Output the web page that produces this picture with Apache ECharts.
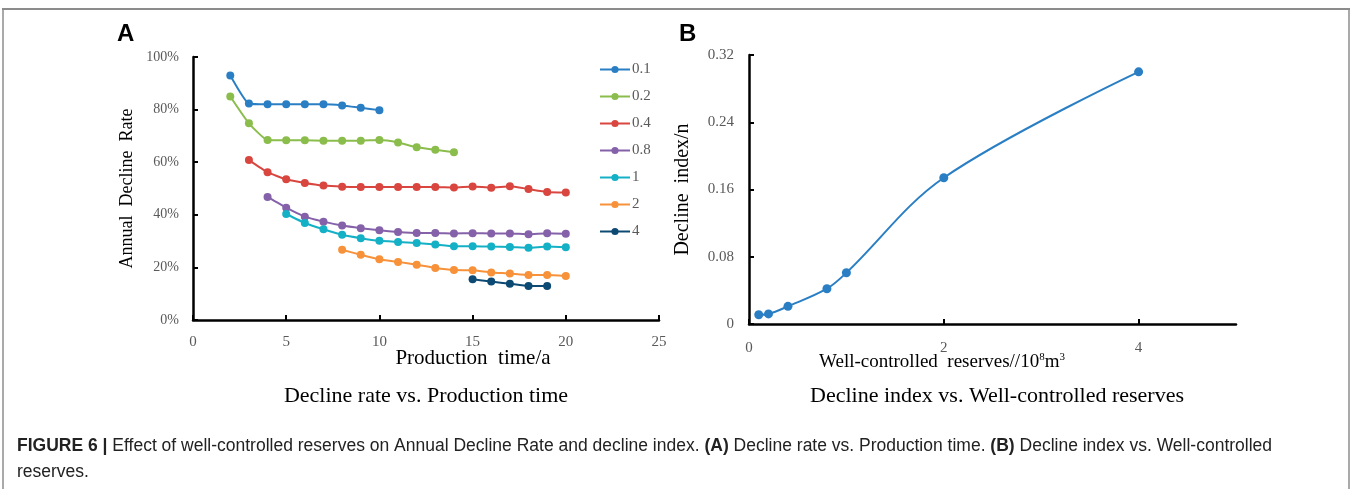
<!DOCTYPE html>
<html>
<head>
<meta charset="utf-8">
<script src="https://cdn.jsdelivr.net/npm/echarts@6/dist/echarts.min.js"></script>
<style>
  html, body { margin: 0; padding: 0; background: #fff; }
  #main { width: 1352px; height: 489px; }
</style>
</head>
<body>
<div id="main"></div>
<script>
// panel A: annual decline rate (%) by production time, one line per well-controlled reserve
var reserveNames = ['0.1', '0.2', '0.4', '0.8', '1', '2', '4'];
var startYear = [2, 2, 3, 4, 5, 8, 15];
var rate01 = [93.0, 82.3, 82.0, 82.0, 82.0, 82.0, 81.6, 80.7, 79.8];
var rate02 = [85.0, 74.8, 68.4, 68.3, 68.3, 68.2, 68.2, 68.2, 68.4, 67.5, 65.7, 64.7, 63.8];
var rate04 = [60.8, 56.2, 53.5, 52.1, 51.1, 50.7, 50.6, 50.6, 50.6, 50.6, 50.6, 50.4, 50.8, 50.3, 50.9, 49.8, 48.7, 48.5];
var rate08 = [46.8, 42.7, 39.3, 37.4, 35.9, 34.9, 34.1, 33.5, 33.1, 33.1, 32.9, 33.0, 32.9, 32.9, 32.6, 33.0, 32.8];
var rate1 = [40.3, 36.9, 34.5, 32.4, 31.1, 30.1, 29.7, 29.3, 28.7, 28.0, 28.0, 27.9, 27.8, 27.5, 27.9, 27.7];
var rate2 = [26.7, 24.8, 23.1, 22.1, 21.0, 19.8, 19.0, 18.9, 18.1, 17.7, 17.1, 17.1, 16.7];
var rate4 = [15.5, 14.6, 13.8, 12.9, 12.9];
var rateSeries = [rate01, rate02, rate04, rate08, rate1, rate2, rate4];
var lineColors = ['#2a7fc4', '#8bbd4c', '#d9463f', '#8561a9', '#14b0c6', '#f7923a', '#0d4a73'];

// panel B: decline index vs well-controlled reserves
var reserves = [0.1, 0.2, 0.4, 0.8, 1, 2, 4];
var declineIndex = [0.011, 0.012, 0.021, 0.042, 0.061, 0.174, 0.300];

var serif = 'Liberation Serif';
var myChart = echarts.init(document.getElementById('main'));

var axisLineStyle = {lineStyle: {color: '#000', width: 2.5}};
var axisTickStyle = {inside: true, length: 5, lineStyle: {color: '#000', width: 2}};
var labelStyle = {fontFamily: serif, fontSize: 15, color: '#595959'};

var seriesList = rateSeries.map(function (vals, k) {
    return {
        name: reserveNames[k],
        type: 'line',
        xAxisIndex: 0,
        yAxisIndex: 0,
        smooth: 0.15,
        symbol: 'circle',
        symbolSize: 8,
        lineStyle: {width: 2, color: lineColors[k]},
        itemStyle: {color: lineColors[k]},
        data: vals.map(function (v, i) { return [startYear[k] + i, v]; })
    };
});
seriesList.push({
    name: 'index',
    type: 'line',
    xAxisIndex: 1,
    yAxisIndex: 1,
    smooth: 0.35,
    symbol: 'circle',
    symbolSize: 9,
    lineStyle: {width: 2, color: '#2a7fc4'},
    itemStyle: {color: '#2a7fc4'},
    data: reserves.map(function (r, i) { return [r, declineIndex[i]]; })
});

var option = {
    animation: false,
    grid: [
        {left: 193, top: 57, width: 466, height: 263},
        {left: 749, top: 55, width: 487, height: 269}
    ],
    legend: {
        data: reserveNames,
        orient: 'vertical',
        left: 594,
        top: 57,
        itemWidth: 30,
        itemHeight: 9,
        itemGap: 12,
        textStyle: {fontFamily: serif, fontSize: 15, color: '#595959', padding: [0, 0, 0, -3]}
    },
    xAxis: [
        {
            gridIndex: 0, type: 'value', min: 0, max: 25, interval: 5,
            axisLine: axisLineStyle, axisTick: axisTickStyle,
            axisLabel: Object.assign({margin: 15}, labelStyle),
            splitLine: {show: false}
        },
        {
            gridIndex: 1, type: 'value', min: 0, max: 5, interval: 2,
            axisLine: axisLineStyle, axisTick: axisTickStyle,
            axisLabel: Object.assign({margin: 17, showMaxLabel: false}, labelStyle),
            splitLine: {show: false}
        }
    ],
    yAxis: [
        {
            gridIndex: 0, type: 'value', min: 0, max: 100, interval: 20,
            name: 'Annual  Decline  Rate', nameLocation: 'middle', nameGap: 57,
            nameTextStyle: {fontFamily: serif, fontSize: 18, color: '#000'},
            axisLine: axisLineStyle, axisTick: axisTickStyle,
            axisLabel: Object.assign({margin: 14, formatter: '{value}%'}, labelStyle, {fontSize: 14}),
            splitLine: {show: false}
        },
        {
            gridIndex: 1, type: 'value', min: 0, max: 0.32, interval: 0.08,
            name: 'Decline  index/n', nameLocation: 'middle', nameGap: 56,
            nameTextStyle: {fontFamily: serif, fontSize: 20, color: '#000'},
            axisLine: axisLineStyle, axisTick: axisTickStyle,
            axisLabel: Object.assign({margin: 15}, labelStyle),
            splitLine: {show: false}
        }
    ],
    series: seriesList,
    graphic: [
        // outer frame
        {type: 'line', shape: {x1: 2, y1: 9, x2: 1350, y2: 9}, style: {stroke: '#8c8c8c', lineWidth: 2}},
        {type: 'line', shape: {x1: 3, y1: 9, x2: 3, y2: 489}, style: {stroke: '#8c8c8c', lineWidth: 1.5}},
        {type: 'line', shape: {x1: 1349, y1: 9, x2: 1349, y2: 489}, style: {stroke: '#8c8c8c', lineWidth: 1.5}},
        // panel letters
        {type: 'text', left: 117, top: 22, style: {text: 'A', font: 'bold 24px "Liberation Sans"', fill: '#000'}},
        {type: 'text', left: 679, top: 22, style: {text: 'B', font: 'bold 24px "Liberation Sans"', fill: '#000'}},
        // x axis names
        {type: 'text', x: 473, y: 358, style: {text: 'Production  time/a', font: '21px "Liberation Serif"', fill: '#000', align: 'center', verticalAlign: 'middle'}},
        {type: 'text', x: 942, y: 362, style: {
            text: 'Well-controlled  reserves//10{sup|8}m{sup|3}',
            font: '19px "Liberation Serif"', fill: '#000', align: 'center', verticalAlign: 'middle',
            rich: {sup: {fontSize: 11, fontFamily: serif, verticalAlign: 'top', padding: [0, 0, 9, 0]}}
        }},
        // sub captions
        {type: 'text', x: 426, y: 396, style: {text: 'Decline rate vs. Production time', font: '22px "Liberation Serif"', fill: '#000', align: 'center', verticalAlign: 'middle'}},
        {type: 'text', x: 997, y: 396, style: {text: 'Decline index vs. Well-controlled reserves', font: '22px "Liberation Serif"', fill: '#000', align: 'center', verticalAlign: 'middle'}},
        // figure caption
        {type: 'text', left: 17, top: 437, style: {
            text: '{b|FIGURE 6 |} Effect of well-controlled reserves on Annual Decline Rate and decline index. {b|(A)} Decline rate vs. Production time. {b|(B)} Decline index vs. Well-controlled',
            font: '17.5px "Liberation Sans"', fill: '#222',
            rich: {b: {fontWeight: 'bold', fontSize: 17.5, fontFamily: 'Liberation Sans', fill: '#222'}}
        }},
        {type: 'text', left: 17, top: 463, style: {text: 'reserves.', font: '17.5px "Liberation Sans"', fill: '#222'}}
    ]
};
myChart.setOption(option);
</script>
</body>
</html>
